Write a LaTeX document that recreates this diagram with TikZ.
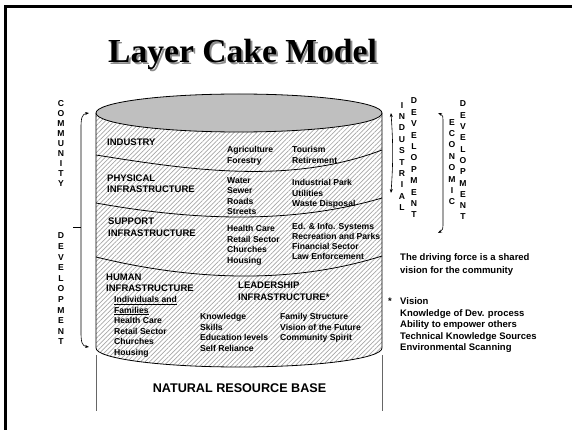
\documentclass[tikz,border=0pt]{standalone}
\usepackage{fontspec}
\setmainfont{Liberation Sans}
\newfontfamily\titlefont{Liberation Serif}
\usetikzlibrary{patterns.meta,arrows.meta,positioning}

\tikzset{
  head/.style={font=\bfseries\fontsize{9.5}{11}\selectfont, align=left, inner sep=0pt, anchor=north west},
  item/.style={font=\bfseries\fontsize{8.6}{10.6}\selectfont, align=left, inner sep=0pt, anchor=north west},
  note/.style={font=\bfseries\fontsize{9.5}{11.5}\selectfont, align=left, inner sep=0pt, anchor=north west},
  letters/.style={font=\bfseries\fontsize{8.6}{#1}\selectfont, align=center, inner sep=0pt},
  letters/.default=11.4,
  layer/.style={line width=0.8pt},
  span/.style={{Stealth[length=4pt,width=3pt]}-{Stealth[length=4pt,width=3pt]}, line width=0.6pt},
  bigtitle/.style={font=\titlefont\bfseries\fontsize{33.6}{40}\selectfont, anchor=base, inner sep=0pt}
}

\begin{document}
\begin{tikzpicture}[x=1pt,y=-1pt]
  \useasboundingbox (0,0) rectangle (572,430);
  \draw[line width=3pt] (5,430) -- (5,6.5) -- (572,6.5);

  \node[bigtitle, text=black!45] (shadow) at (244.5,65) {Layer Cake Model};
  \node[bigtitle] (title) at (242.5,63) {Layer Cake Model};

  % cake
  \fill[pattern={Lines[angle=45,distance=3.2pt,line width=0.7pt]}, pattern color=black!35]
    (96,113) -- (96,348) arc[start angle=180, end angle=0, x radius=143, y radius=19] -- (382,113) -- cycle;
  \draw[line width=0.8pt] (96,113) -- (96,348) arc[start angle=180, end angle=0, x radius=143, y radius=19] -- (382,113);
  \draw[fill=black!25, line width=0.8pt] (239,113) ellipse[x radius=143, y radius=19];
  \draw[layer] (96,155) .. controls (190,170) and (290,185) .. (382,150);
  \draw[layer] (96,203) .. controls (190,220) and (290,225) .. (382,198);
  \draw[layer] (96,257) .. controls (190,280) and (290,285) .. (382,256);
  \draw[black!60, line width=1pt] (96,355) -- (96,411) (382,355) -- (382,411);

  \node[head] (industry) at (107,138.6) {INDUSTRY};
  \node[item] (agri) at (227,146) {Agriculture\\Forestry};
  \node[item] (tourism) at (292,146) {Tourism\\Retirement};

  \node[head] (physical) at (107,174.6) {PHYSICAL\\INFRASTRUCTURE};
  \node[item] (water) at (227,177) {Water\\Sewer\\Roads\\Streets};
  \node[item] (park) at (292,179) {Industrial Park\\Utilities\\Waste Disposal};

  \node[head, font=\bfseries\fontsize{9.5}{12}\selectfont] (support) at (108,217.6) {SUPPORT\\INFRASTRUCTURE};
  \node[item] (care) at (227,225) {Health Care\\Retail Sector\\Churches\\Housing};
  \node[item, font=\bfseries\fontsize{8.6}{10.1}\selectfont] (edinfo) at (292,223) {Ed. \& Info. Systems\\Recreation and Parks\\Financial Sector\\Law Enforcement};

  \node[head] (human) at (106,273.6) {HUMAN\\INFRASTRUCTURE};
  \node[item] (families) at (114,296) {\underline{Individuals and}\\\underline{Families}\\Health Care\\Retail Sector\\Churches\\Housing};
  \node[head, font=\bfseries\fontsize{9.5}{12}\selectfont] (leader) at (238,281.6) {LEADERSHIP\\INFRASTRUCTURE*};
  \node[item] (skills) at (200,313) {Knowledge\\Skills\\Education levels\\Self Reliance};
  \node[item] (family) at (280,313) {Family Structure\\Vision of the Future\\Community Spirit};

  \node[font=\bfseries\fontsize{12.6}{14}\selectfont, inner sep=0pt] (base) at (239.5,388) {NATURAL RESOURCE BASE};

  % side labels
  \node[letters=10.1] (community) at (61,143.5) {C\\O\\M\\M\\U\\N\\I\\T\\Y};
  \node[letters=10.6] (cdev) at (61,289) {D\\E\\V\\E\\L\\O\\P\\M\\E\\N\\T};
  \node[letters] (industrial) at (402,156.5) {I\\N\\D\\U\\S\\T\\R\\I\\A\\L};
  \node[letters] (idev) at (414,158) {D\\E\\V\\E\\L\\O\\P\\M\\E\\N\\T};
  \node[letters] (economic) at (452,162) {E\\C\\O\\N\\O\\M\\I\\C};
  \node[letters=11.3] (edev) at (463,160.5) {D\\E\\V\\E\\L\\O\\P\\M\\E\\N\\T};

  \coordinate (cdtop) at (89,113);
  \coordinate (cdbot) at (89,347);
  \coordinate (cdtick) at (73,227);
  \draw[span] (cdtop) .. controls (82,114) and (81,118) .. (81,128) -- (81,332) .. controls (81,342) and (82,346) .. (cdbot);
  \draw[line width=0.6pt] (cdtick) -- (81,227);

  \coordinate (idtop) at (391,113);
  \coordinate (idbot) at (391,193);
  \draw[span] (idtop) to[bend left=4] (idbot);

  \coordinate (edtop) at (438,113);
  \coordinate (edbot) at (438,233);
  \draw[span] (edtop) .. controls (443,115) .. (443,125) -- (443,220) .. controls (443,230) .. (edbot);

  \node[note, font=\bfseries\fontsize{9.5}{12.7}\selectfont] (driving) at (400,253.6) {The driving force is a shared\\vision for the community};
  \node[note, anchor=north east] (star) at (392,297.6) {*};
  \node[note] (vision) at (400,297.6) {Vision\\Knowledge of Dev. process\\Ability to empower others\\Technical Knowledge Sources\\Environmental Scanning};
\end{tikzpicture}
\end{document}
